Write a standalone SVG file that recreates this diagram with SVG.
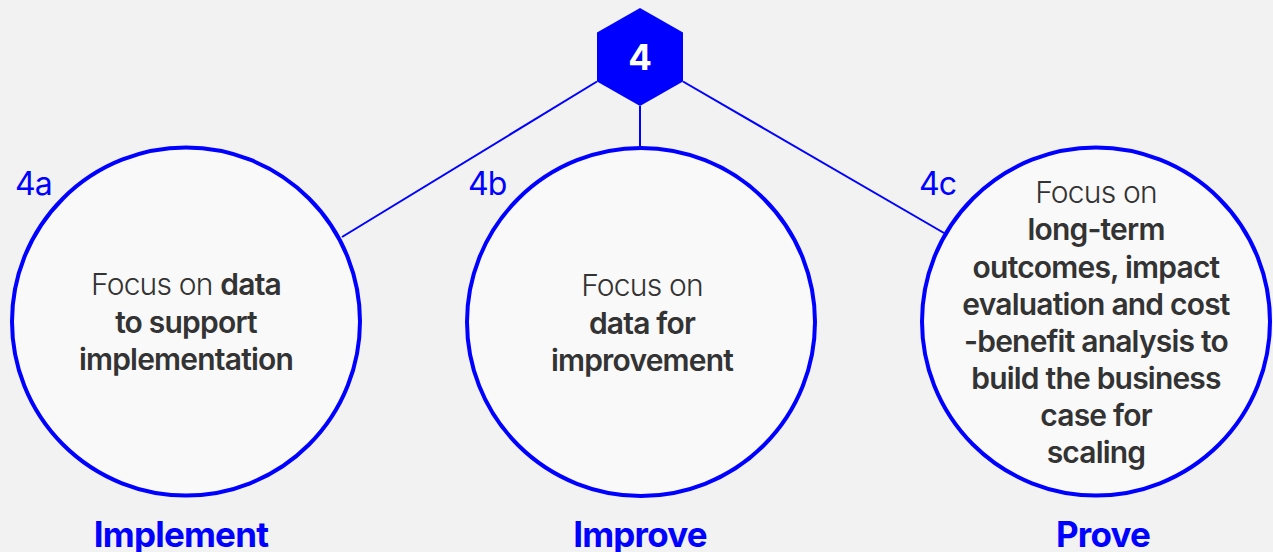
<svg xmlns="http://www.w3.org/2000/svg" width="1273" height="552" viewBox="0 0 1273 552">
<style>
.bg{fill:#f2f2f2}
.node{fill:#f9f9f9;stroke:#0000ff;stroke-width:4}
.conn{stroke:#0000ff;stroke-width:2;fill:none}
.body{font-family:Inter,"Liberation Sans",sans-serif;font-size:30px;fill:#333333;text-anchor:middle;letter-spacing:-0.8px}
.lt{font-weight:300}
.bd{font-weight:600}
.tag{font-family:Inter,"Liberation Sans",sans-serif;font-size:32px;fill:#0000ff;font-weight:400;letter-spacing:-0.8px}
.title{font-family:Inter,"Liberation Sans",sans-serif;font-size:35px;fill:#0000ff;font-weight:700;text-anchor:middle;letter-spacing:-0.8px}
</style>
<rect class="bg" x="0" y="0" width="1273" height="552"/>
<g id="connectors">
<line class="conn" x1="597" y1="81.5" x2="342" y2="237"/>
<line class="conn" x1="640" y1="106" x2="640" y2="148"/>
<line class="conn" x1="683" y1="81.5" x2="944" y2="233"/>
</g>
<g id="node-4">
<polygon points="640,8 683,32.5 683,81.5 640,106 597,81.5 597,32.5" fill="#0000ff"/>
<text x="640" y="70" font-family="Inter,'Liberation Sans',sans-serif" font-size="35" font-weight="700" fill="#ffffff" text-anchor="middle">4</text>
</g>
<g id="node-4a">
<circle class="node" cx="186" cy="321.5" r="174"/>
<text class="tag" x="15" y="195">4a</text>
<text class="body" x="186" y="295"><tspan class="lt">Focus on </tspan><tspan class="bd">data</tspan></text>
<text class="body bd" x="186" y="333">to support</text>
<text class="body bd" x="186" y="370">implementation</text>
<text class="title" x="181" y="547">Implement</text>
</g>
<g id="node-4b">
<circle class="node" cx="641" cy="322" r="174"/>
<text class="tag" x="468" y="195">4b</text>
<text class="body lt" x="642" y="296">Focus on</text>
<text class="body bd" x="642" y="334">data for</text>
<text class="body bd" x="642" y="371">improvement</text>
<text class="title" x="640" y="547">Improve</text>
</g>
<g id="node-4c">
<circle class="node" cx="1096" cy="321.5" r="174"/>
<text class="tag" x="919" y="195">4c</text>
<text class="body lt" x="1096" y="203">Focus on</text>
<text class="body bd" x="1096" y="240">long-term</text>
<text class="body bd" x="1096" y="277.5">outcomes, impact</text>
<text class="body bd" x="1096" y="314.5">evaluation and cost</text>
<text class="body bd" x="1096" y="351.5">-benefit analysis to</text>
<text class="body bd" x="1096" y="388.5">build the business</text>
<text class="body bd" x="1096" y="426">case for</text>
<text class="body bd" x="1096" y="463">scaling</text>
<text class="title" x="1103" y="547">Prove</text>
</g>
</svg>
